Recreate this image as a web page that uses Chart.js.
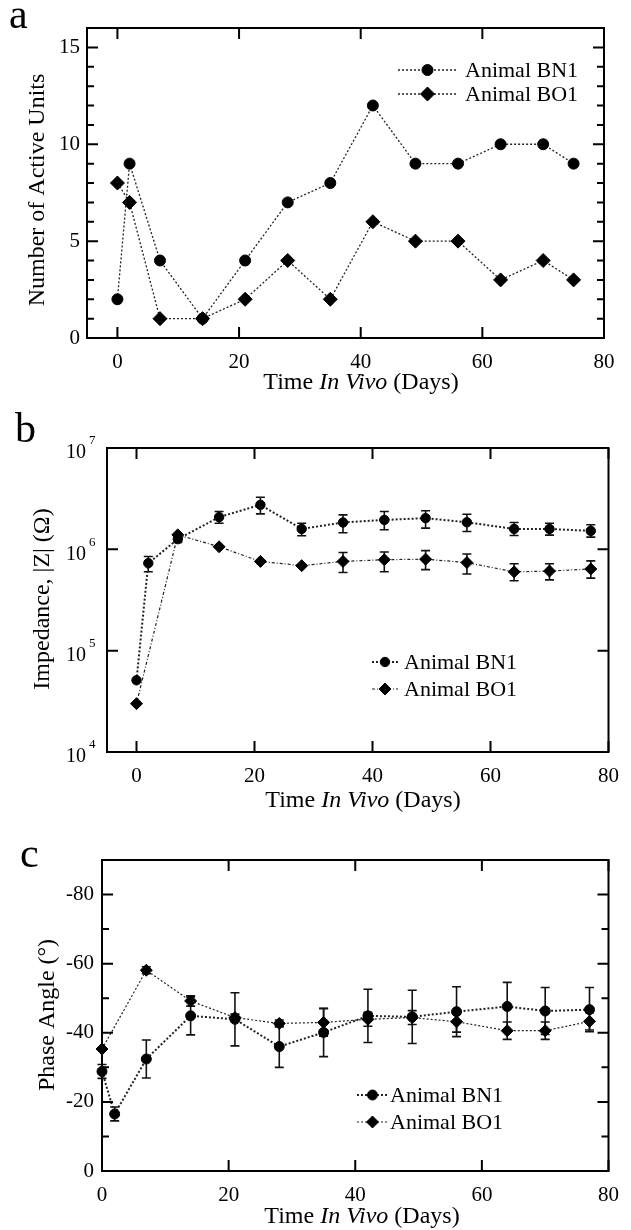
<!DOCTYPE html>
<html>
<head>
<meta charset="utf-8">
<script src="https://cdn.jsdelivr.net/npm/chart.js@4.4.1/dist/chart.umd.min.js"></script>
<style>
  html, body { margin: 0; padding: 0; background: #fff; }
  #wrap { position: relative; width: 631px; height: 1230px; overflow: hidden; }
  canvas { position: absolute; left: 0; }
</style>
</head>
<body>
<div id="wrap">
  <canvas id="panelA" width="631" height="400" style="top:0"></canvas>
  <canvas id="panelB" width="631" height="415" style="top:400px"></canvas>
  <canvas id="panelC" width="631" height="415" style="top:815px"></canvas>
</div>
<script>
const SERIF = '"Liberation Serif", "Times New Roman", serif';
const seriesNames = ['Animal BN1', 'Animal BO1'];

// panel a - active units
const daysUnits = [0, 2, 7, 14, 21, 28, 35, 42, 49, 56, 63, 70, 75];
const unitsBN1 = [2, 9, 4, 1, 4, 7, 8, 12, 9, 9, 10, 10, 9];
const unitsBO1 = [8, 7, 1, 1, 2, 4, 2, 6, 5, 5, 3, 4, 3];

// panel b - impedance |Z| (ohm), with error bar ends
const daysBN1 = [0, 2, 7, 14, 21, 28, 35, 42, 49, 56, 64, 70, 77];
const daysBO1 = [0, 7, 14, 21, 28, 35, 42, 49, 56, 64, 70, 77];
const zBN1   = [5.1e4, 7.3e5, 1.26e6, 2.08e6, 2.75e6, 1.59e6, 1.84e6, 1.95e6, 2.03e6, 1.85e6, 1.59e6, 1.59e6, 1.52e6];
const zBN1Hi = [5.1e4, 8.5e5, 1.36e6, 2.36e6, 3.27e6, 1.81e6, 2.19e6, 2.36e6, 2.40e6, 2.22e6, 1.84e6, 1.81e6, 1.75e6];
const zBN1Lo = [5.1e4, 6.0e5, 1.17e6, 1.81e6, 2.24e6, 1.36e6, 1.46e6, 1.56e6, 1.62e6, 1.50e6, 1.37e6, 1.38e6, 1.32e6];
const zBO1   = [3.0e4, 1.39e6, 1.06e6, 7.6e5, 6.9e5, 7.6e5, 7.9e5, 8.0e5, 7.4e5, 6.0e5, 6.1e5, 6.4e5];
const zBO1Hi = [3.0e4, 1.39e6, 1.06e6, 7.6e5, 6.9e5, 9.3e5, 9.4e5, 9.7e5, 9.0e5, 7.2e5, 7.2e5, 7.7e5];
const zBO1Lo = [3.0e4, 1.39e6, 1.06e6, 7.6e5, 6.9e5, 5.9e5, 6.0e5, 6.3e5, 5.7e5, 4.9e5, 5.0e5, 5.2e5];

// panel c - phase angle (deg), +/- error
const phBN1    = [-28.8, -16.5, -32.4, -44.9, -43.9, -36.0, -40.1, -44.9, -44.6, -46.1, -47.6, -46.3, -46.7];
const phBN1Err = [2, 2, 5.5, 5.5, 7.7, 6, 7, 7.7, 7.7, 7.2, 7, 6.8, 6.4];
const phBO1    = [-35.3, -58.1, -49.2, -44.4, -42.7, -43.0, -43.9, -44.4, -43.2, -40.6, -40.6, -43.3];
const phBO1Err = [0, 1, 1.5, 1, 1, 4, 2, 2, 3, 2.5, 2.5, 2.5];

// tick values
const dayTicks = [0, 20, 40, 60, 80];
const unitTicks = [0, 5, 10, 15];
const unitMinor = [1, 2, 3, 4, 6, 7, 8, 9, 11, 12, 13, 14];
const zTicks = [1e4, 1e5, 1e6, 1e7];
const phTicks = [0, -20, -40, -60, -80];
const phMinor = [-10, -30, -50, -70];

function pts(xs, ys) { return xs.map((x, i) => ({ x: x, y: ys[i] })); }

function drawMarker(ctx, style, r, x, y) {
  ctx.fillStyle = '#000'; ctx.strokeStyle = '#000'; ctx.lineWidth = 1; ctx.setLineDash([]);
  ctx.beginPath();
  if (style === 'rectRot') {
    ctx.moveTo(x - r, y); ctx.lineTo(x, y - r); ctx.lineTo(x + r, y); ctx.lineTo(x, y + r); ctx.closePath();
  } else {
    ctx.arc(x, y, r, 0, Math.PI * 2);
  }
  ctx.fill(); ctx.stroke();
}

const panelPlugin = {
  id: 'panel',
  beforeDatasetsDraw(chart) {
    const ctx = chart.ctx, xs = chart.scales.x, ys = chart.scales.y;
    ctx.save();
    ctx.strokeStyle = '#111'; ctx.lineWidth = 1.6; ctx.setLineDash([]);
    chart.data.datasets.forEach(ds => {
      if (!ds.errHi) return;
      ds.data.forEach((p, i) => {
        const hi = ds.errHi[i], lo = ds.errLo[i];
        if (hi === lo) return;
        const px = xs.getPixelForValue(p.x), y1 = ys.getPixelForValue(hi), y2 = ys.getPixelForValue(lo);
        ctx.beginPath();
        ctx.moveTo(px, y1); ctx.lineTo(px, y2);
        ctx.moveTo(px - 4.5, y1); ctx.lineTo(px + 4.5, y1);
        ctx.moveTo(px - 4.5, y2); ctx.lineTo(px + 4.5, y2);
        ctx.stroke();
      });
    });
    ctx.restore();
  },
  afterDraw(chart, args, o) {
    const ctx = chart.ctx, a = chart.chartArea, xs = chart.scales.x, ys = chart.scales.y;
    ctx.save();
    // frame + inward ticks on all four sides
    ctx.strokeStyle = '#000'; ctx.lineWidth = 2; ctx.setLineDash([]);
    ctx.strokeRect(a.left, a.top, a.right - a.left, a.bottom - a.top);
    ctx.beginPath();
    o.xMajor.forEach(v => {
      const p = xs.getPixelForValue(v);
      ctx.moveTo(p, a.bottom); ctx.lineTo(p, a.bottom - 11);
      ctx.moveTo(p, a.top); ctx.lineTo(p, a.top + 11);
    });
    const yTick = (v, len) => {
      const p = ys.getPixelForValue(v);
      ctx.moveTo(a.left, p); ctx.lineTo(a.left + len, p);
      ctx.moveTo(a.right, p); ctx.lineTo(a.right - len, p);
    };
    o.yMajor.forEach(v => yTick(v, 11));
    (o.yMinor || []).forEach(v => yTick(v, 7));
    ctx.stroke();

    ctx.fillStyle = '#000';
    // powers of ten for the log axis: "10" with raised exponent
    if (o.powerLabels) {
      o.yMajor.forEach(v => {
        const p = ys.getPixelForValue(v);
        ctx.font = '20px ' + SERIF; ctx.textAlign = 'right'; ctx.textBaseline = 'middle';
        ctx.fillText('10', a.left - 21, p + 5);
        ctx.font = '13px ' + SERIF; ctx.textAlign = 'left';
        ctx.fillText(String(Math.round(Math.log10(v))), a.left - 18, p - 7);
      });
    }

    // panel letter
    ctx.font = '42px ' + SERIF;
    ctx.textBaseline = 'alphabetic'; ctx.textAlign = 'left';
    ctx.fillText(o.letter[0], o.letter[1], o.letter[2]);

    // x title with italic "In Vivo"
    const parts = [['Time ', ''], ['In Vivo', 'italic '], [' (Days)', '']];
    const widths = parts.map(p => { ctx.font = p[1] + '24px ' + SERIF; return ctx.measureText(p[0]).width; });
    let x = o.xTitle[0] - widths.reduce((s, w) => s + w, 0) / 2;
    ctx.textBaseline = 'middle';
    parts.forEach((p, i) => { ctx.font = p[1] + '24px ' + SERIF; ctx.fillText(p[0], x, o.xTitle[1]); x += widths[i]; });

    // y title
    ctx.save();
    ctx.translate(o.yTitle[1], o.yTitle[2]);
    ctx.rotate(-Math.PI / 2);
    ctx.textAlign = 'center';
    ctx.font = '24px ' + SERIF;
    ctx.fillText(o.yTitle[0], 0, 0);
    ctx.restore();

    // legend
    const L = o.legend;
    chart.data.datasets.forEach((ds, i) => {
      const y = L.y + i * L.dy;
      ctx.strokeStyle = ds.borderColor; ctx.lineWidth = ds.borderWidth; ctx.setLineDash(ds.borderDash);
      ctx.beginPath(); ctx.moveTo(L.x0, y); ctx.lineTo(L.x1, y); ctx.stroke();
      drawMarker(ctx, ds.pointStyle, ds.pointRadius, (L.x0 + L.x1) / 2, y);
      ctx.fillStyle = '#000'; ctx.font = '22px ' + SERIF; ctx.textAlign = 'left'; ctx.textBaseline = 'middle';
      ctx.fillText(ds.label, L.tx, y + 1);
    });
    ctx.restore();
  }
};

function lineSet(label, data, style, radius, width, dash) {
  return {
    label: label, data: data, borderColor: '#222', borderWidth: width, borderDash: dash,
    pointStyle: style, pointRadius: radius, pointHoverRadius: radius,
    pointBackgroundColor: '#000', pointBorderColor: '#000', pointBorderWidth: 1,
    fill: false, tension: 0, clip: false
  };
}

function makePanel(id, datasets, cfg) {
  const tickFont = { family: SERIF, size: 21 };
  new Chart(document.getElementById(id), {
    type: 'line',
    data: { datasets: datasets },
    options: {
      responsive: false, animation: false, devicePixelRatio: 1,
      layout: { padding: { left: 0, top: cfg.pad[0], right: cfg.pad[1], bottom: 0 } },
      plugins: { legend: { display: false }, tooltip: { enabled: false }, panel: cfg.panel },
      scales: {
        x: {
          type: 'linear', min: cfg.xRange[0], max: cfg.xRange[1],
          grid: { display: false, drawTicks: false }, border: { display: false },
          afterBuildTicks: s => { s.ticks = dayTicks.map(v => ({ value: v })); },
          afterFit: s => { s.height = cfg.xH; },
          ticks: { color: '#000', font: tickFont, padding: 12, autoSkip: false, maxRotation: 0 }
        },
        y: Object.assign({
          min: cfg.yRange[0], max: cfg.yRange[1],
          grid: { display: false, drawTicks: false }, border: { display: false },
          afterBuildTicks: s => { s.ticks = cfg.yTicks.map(v => ({ value: v })); },
          afterFit: s => { s.width = cfg.yW; },
          ticks: { color: '#000', font: tickFont, padding: cfg.yPad, autoSkip: false, callback: cfg.yLabel }
        }, cfg.yExtra)
      }
    },
    plugins: [panelPlugin]
  });
}

// a
makePanel('panelA', [
  lineSet(seriesNames[0], pts(daysUnits, unitsBN1), 'circle', 5.5, 1.3, [2, 2]),
  lineSet(seriesNames[1], pts(daysUnits, unitsBO1), 'rectRot', 7, 1.3, [2, 2])
], {
  pad: [28, 27], xH: 62, yW: 87, yPad: 7, xRange: [-5, 80], yRange: [0, 16], yTicks: unitTicks,
  yLabel: v => String(v), yExtra: { type: 'linear' },
  panel: { xMajor: dayTicks, yMajor: unitTicks, yMinor: unitMinor, letter: ['a', 9, 28],
    xTitle: [361, 383], yTitle: ['Number of Active Units', 38, 190],
    legend: { x0: 398, x1: 457, tx: 465, y: 70, dy: 24 } }
});

// b
const setBN1z = lineSet(seriesNames[0], pts(daysBN1, zBN1), 'circle', 4.7, 2, [2, 2]);
setBN1z.errHi = zBN1Hi; setBN1z.errLo = zBN1Lo;
const setBO1z = lineSet(seriesNames[1], pts(daysBO1, zBO1), 'rectRot', 6, 1.2, [3, 2, 1, 2]);
setBO1z.errHi = zBO1Hi; setBO1z.errLo = zBO1Lo;
makePanel('panelB', [setBN1z, setBO1z], {
  pad: [48, 19], xH: 63, yW: 107, yPad: 10, xRange: [-5, 80], yRange: [1e4, 1e7], yTicks: zTicks,
  yLabel: () => '', yExtra: { type: 'logarithmic' },
  panel: { xMajor: dayTicks, yMajor: zTicks, powerLabels: true, letter: ['b', 15, 42],
    xTitle: [363, 401], yTitle: ['Impedance, |Z| (\u03A9)', 43, 199],
    legend: { x0: 372, x1: 398, tx: 404, y: 262, dy: 27 } }
});

// c
const setBN1p = lineSet(seriesNames[0], pts(daysBN1, phBN1), 'circle', 5, 2, [2, 2]);
setBN1p.errHi = phBN1.map((v, i) => v - phBN1Err[i]); setBN1p.errLo = phBN1.map((v, i) => v + phBN1Err[i]);
const setBO1p = lineSet(seriesNames[1], pts(daysBO1, phBO1), 'rectRot', 6, 1.2, [2, 2]);
setBO1p.errHi = phBO1.map((v, i) => v - phBO1Err[i]); setBO1p.errLo = phBO1.map((v, i) => v + phBO1Err[i]);
makePanel('panelC', [setBN1p, setBO1p], {
  pad: [45, 12], xH: 59, yW: 102, yPad: 8, xRange: [0, 80], yRange: [-90, 0], yTicks: phTicks,
  yLabel: v => String(v), yExtra: { type: 'linear', reverse: true },
  panel: { xMajor: dayTicks, yMajor: phTicks, yMinor: phMinor, letter: ['c', 20, 52],
    xTitle: [362, 402], yTitle: ['Phase Angle (\u00B0)', 48, 200],
    legend: { x0: 357, x1: 388, tx: 390, y: 280, dy: 27 } }
});
</script>
</body>
</html>
